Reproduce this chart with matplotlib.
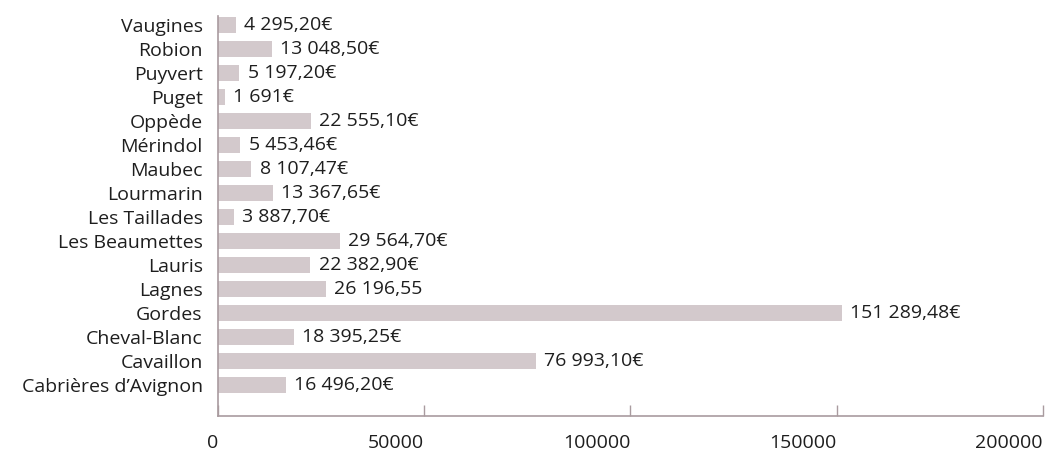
import matplotlib
matplotlib.use("Agg")
import matplotlib.pyplot as plt

communes = ["Cabrières d’Avignon", "Cavaillon", "Cheval-Blanc", "Gordes", "Lagnes",
            "Lauris", "Les Beaumettes", "Les Taillades", "Lourmarin", "Maubec",
            "Mérindol", "Oppède", "Puget", "Puyvert", "Robion", "Vaugines"]
montants = [16496.20, 76993.10, 18395.25, 151289.48, 26196.55,
            22382.90, 29564.70, 3887.70, 13367.65, 8107.47,
            5453.46, 22555.10, 1691, 5197.20, 13048.50, 4295.20]
etiquettes = ["16 496,20€", "76 993,10€", "18 395,25€", "151 289,48€", "26 196,55",
              "22 382,90€", "29 564,70€", "3 887,70€", "13 367,65€", "8 107,47€",
              "5 453,46€", "22 555,10€", "1 691€", "5 197,20€", "13 048,50€", "4 295,20€"]
graduations = [0, 50000, 100000, 150000, 200000]

plt.rcParams['font.family'] = ['Open Sans', 'DejaVu Sans']

fig = plt.figure(figsize=(10.45, 4.5), dpi=100)
ax = fig.add_axes([0.2086, 0.0756, 0.7894, 0.8884])

axe_col = "#a99b9f"
txt_col = "#1e1e1e"
pos = range(len(communes))
ax.barh(pos, montants, height=0.67, color="#d3c9cc")
for i, (v, t) in enumerate(zip(montants, etiquettes)):
    ax.annotate(t, (v, i), xytext=(6, 0), textcoords="offset points",
                va="center", ha="left", fontsize=14, color=txt_col)

ax.set_yticks(list(pos))
ax.set_yticklabels(communes, fontsize=14, color=txt_col)
ax.set_xticks(graduations)
ax.set_xticklabels([str(g) for g in graduations], fontsize=14, color=txt_col, ha="right")
ax.set_xlim(0, 200000)
ax.set_ylim(-1.3, len(communes) - 1 + 0.36)

for s in ["top", "right"]:
    ax.spines[s].set_visible(False)
for s in ["left", "bottom"]:
    ax.spines[s].set_color(axe_col)
    ax.spines[s].set_linewidth(1.2)
ax.tick_params(axis="y", length=0, pad=11)
ax.tick_params(axis="x", direction="in", length=8, color=axe_col, width=1, pad=13)

fig.savefig("out.png", dpi=100)
